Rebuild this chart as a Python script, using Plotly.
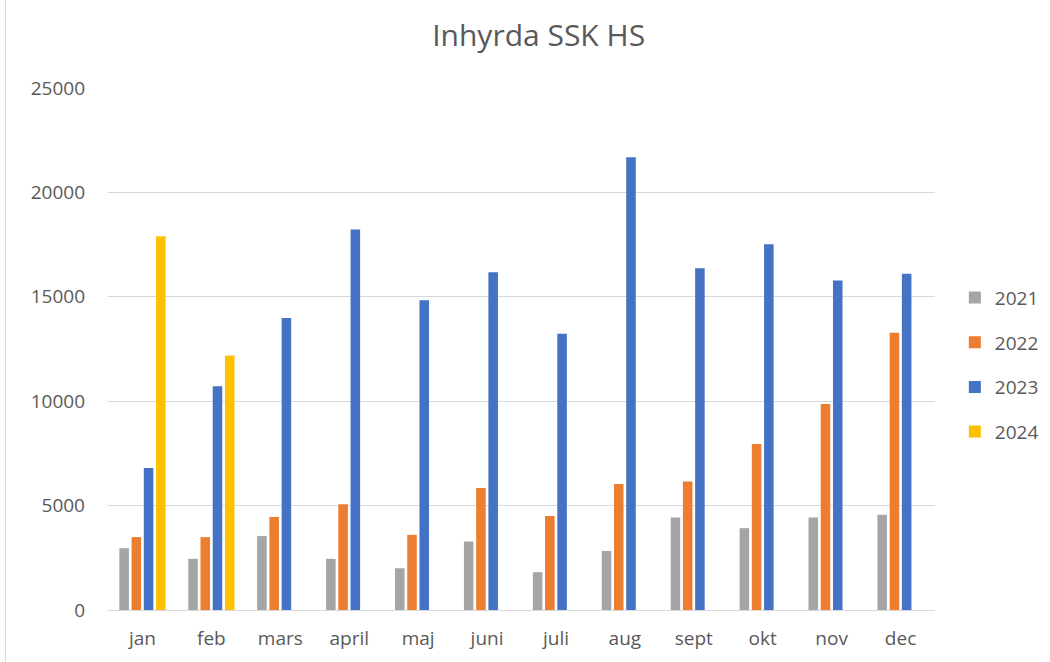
import plotly.graph_objects as go

months = ["jan", "feb", "mars", "april", "maj", "juni", "juli", "aug", "sept", "okt", "nov", "dec"]
y2021 = [2960, 2450, 3540, 2450, 2000, 3280, 1810, 2830, 4430, 3920, 4430, 4560]
y2022 = [3490, 3490, 4450, 5070, 3600, 5840, 4500, 6030, 6160, 7950, 9870, 13280]
y2023 = [6800, 10720, 13980, 18220, 14830, 16180, 13230, 21680, 16370, 17520, 15780, 16100]
y2024 = [17900, 12190, None, None, None, None, None, None, None, None, None, None]
series = [("2021", y2021, "#A5A5A5"), ("2022", y2022, "#ED7D31"),
          ("2023", y2023, "#4472C4"), ("2024", y2024, "#FFC000")]
yticks = [0, 5000, 10000, 15000, 20000, 25000]

fig = go.Figure()
for name, vals, col in series:
    fig.add_trace(go.Bar(x=months, y=vals, name=name, legendgroup=name,
                         marker=dict(color=col, line=dict(width=0))))

font_family = "'Open Sans', sans-serif"
fig.update_layout(
    width=1050, height=662,
    paper_bgcolor="white", plot_bgcolor="white",
    margin=dict(l=108, r=115, t=88, b=52, autoexpand=False),
    barmode="group", bargap=0.29, bargroupgap=0.22,
    title=dict(text="Inhyrda SSK HS", x=0.513, xanchor="center", y=0.947, yanchor="middle",
               font=dict(family=font_family, size=30, color="#595959")),
    font=dict(family=font_family, color="#595959", size=19),
    legend=dict(x=1.024, xanchor="left", y=0.47, yanchor="middle",
                font=dict(size=19, color="#595959"), tracegroupgap=17,
                itemwidth=30, traceorder="grouped", bgcolor="rgba(0,0,0,0)"),
    xaxis=dict(showgrid=False, showline=True, linecolor="#D9D9D9", linewidth=1,
               ticks="", tickfont=dict(size=19), ticklabelstandoff=11),
    yaxis=dict(range=[0, 25000], tickvals=yticks, ticktext=[str(v) for v in yticks],
               showgrid=True, gridcolor="#D9D9D9", gridwidth=1, zeroline=False,
               showline=False, ticks="", tickfont=dict(size=19), ticklabelstandoff=22),
    shapes=[dict(type="line", xref="paper", yref="paper", x0=-0.124, x1=-0.124, y0=-0.2, y1=1.2,
                 line=dict(color="#D9D9D9", width=1))],
)
fig.write_html("out.html", config={"displayModeBar": False},
               post_script="document.body.style.margin='0';document.body.style.overflow='hidden';")
